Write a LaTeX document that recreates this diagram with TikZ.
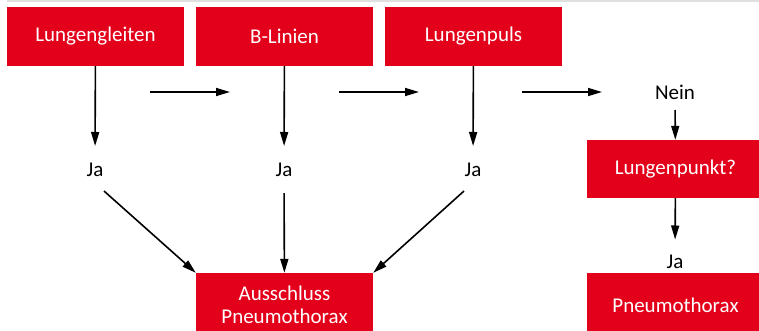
\documentclass[tikz,border=0pt]{standalone}
\usepackage{fontspec}
\setmainfont{Carlito}
\usetikzlibrary{arrows.meta}
\definecolor{signalred}{RGB}{226,0,26}

\begin{document}
\begin{tikzpicture}[x=1pt,y=-1pt,
  box/.style={fill=signalred,text=white,minimum width=177pt,minimum height=59pt,inner sep=0pt,align=center,font=\fontsize{21}{23}\selectfont},
  answer/.style={inner sep=0pt,font=\fontsize{21}{23}\selectfont},
  pfeil/.style={-{Triangle[length=14pt,width=8pt]},line width=1.6pt}]
\clip (0,0) rectangle (759,330);
\draw[black!12,line width=1.5pt] (7,0.75) -- (759,0.75);
\node [box] (gleiten) at (95.5,36.5) {Lungengleiten};
\node [box] (blinien) at (284.5,36.5) {B-Linien};
\node [box] (puls) at (473.5,36.5) {Lungenpuls};
\node [answer] (ja1) at (95,170) {Ja};
\node [answer] (ja2) at (284,170) {Ja};
\node [answer] (ja3) at (473,170) {Ja};
\node [answer] (nein) at (675,92) {Nein};
\node [box,minimum height=58pt] (punkt) at (675.5,169) {Lungenpunkt?};
\node [answer] (ja4) at (675,262) {Ja};
\node [box,minimum height=64pt] (ausschluss) at (284.5,305) {Ausschluss\\Pneumothorax};
\node [box,minimum height=64pt] (pneumo) at (675.5,305) {Pneumothorax};
\coordinate (h1s) at (150,92);
\coordinate (h1e) at (230,92);
\coordinate (h2s) at (339,92);
\coordinate (h2e) at (419,92);
\coordinate (h3s) at (522,92);
\coordinate (h3e) at (602,92);
\draw[pfeil,shorten >=17pt] (gleiten) -- (ja1);
\draw[pfeil,shorten >=17pt] (blinien) -- (ja2);
\draw[pfeil,shorten >=17pt] (puls) -- (ja3);
\draw[pfeil] (h1s) -- (h1e);
\draw[pfeil] (h2s) -- (h2e);
\draw[pfeil] (h3s) -- (h3e);
\draw[pfeil] ([shift={(9,21)}]ja1.center) -- (ausschluss.north west);
\draw[pfeil,shorten <=16pt] (ja2) -- (ausschluss);
\draw[pfeil] ([shift={(-9,21)}]ja3.center) -- (ausschluss.north east);
\draw[pfeil,shorten <=10.5pt] (nein) -- (punkt);
\draw[pfeil,shorten >=15.5pt] (punkt) -- (ja4);
\end{tikzpicture}
\end{document}
